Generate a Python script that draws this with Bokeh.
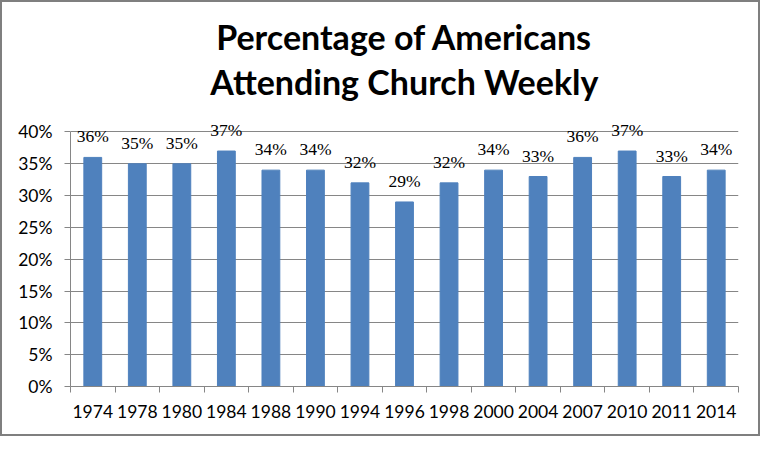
from bokeh.plotting import figure
from bokeh.models import (ColumnDataSource, Title, NumeralTickFormatter, Range1d,
                          FixedTicker, LabelSet, LinearAxis)
from bokeh.embed import file_html
from bokeh.resources import INLINE

years = ["1974", "1978", "1980", "1984", "1988", "1990", "1994", "1996", "1998",
         "2000", "2004", "2007", "2010", "2011", "2014"]
values = [0.36, 0.35, 0.35, 0.37, 0.34, 0.34, 0.32, 0.29, 0.32,
          0.34, 0.33, 0.36, 0.37, 0.33, 0.34]
labels = [f"{round(v*100)}%" for v in values]
y_ticks = [0, 0.05, 0.10, 0.15, 0.20, 0.25, 0.30, 0.35, 0.40]
title_lines = ["Percentage of Americans", "Attending Church Weekly"]

FONT = "Lato"
GRAY = "#868686"
n = len(years)
centers = [i + 0.5 for i in range(n)]
bounds = [float(i) for i in range(n + 1)]
src = ColumnDataSource(dict(x=centers, top=values, label=labels))

p = figure(width=760, height=436, output_backend="svg", x_axis_location=None,
           toolbar_location=None, min_border_left=68, min_border_right=24,
           min_border_top=104, min_border_bottom=52)
p.x_range = Range1d(0, n)
p.y_range = Range1d(0, 0.44)
p.vbar(x="x", top="top", width=0.4, source=src, color="#4F81BD")
p.add_layout(LabelSet(x="x", y="top", text="label", source=src, text_align="center",
                      y_offset=11, text_font=FONT, text_font_size="17.5px",
                      text_color="#000000"))

p.outline_line_color = None
p.border_fill_color = "white"
p.background_fill_color = "white"
p.xgrid.grid_line_color = None
p.ygrid.grid_line_color = GRAY
p.ygrid.ticker = FixedTicker(ticks=y_ticks)

ya = p.yaxis[0]
ya.ticker = FixedTicker(ticks=y_ticks)
ya.formatter = NumeralTickFormatter(format="0%")
ya.bounds = (0, 0.40)
ya.axis_line_color = GRAY
ya.major_tick_line_color = GRAY
ya.minor_tick_line_color = None
ya.major_tick_in = 0
ya.major_tick_out = 6
ya.major_label_standoff = 12
ya.major_label_text_font = FONT
ya.major_label_text_font_size = "17.5px"
ya.major_label_text_color = "#000000"

# axis with category-boundary ticks (no labels)
tick_axis = LinearAxis(ticker=FixedTicker(ticks=bounds), axis_line_color=GRAY,
                       major_tick_line_color=GRAY, major_tick_in=0, major_tick_out=6,
                       minor_tick_line_color=None, major_label_text_font_size="0px",
                       major_label_standoff=0,
                       major_label_overrides={b: "" for b in bounds})
p.add_layout(tick_axis, "below")

# axis with the year labels
label_axis = LinearAxis(ticker=FixedTicker(ticks=centers), axis_line_color=None,
                        major_tick_line_color=None, minor_tick_line_color=None,
                        major_label_standoff=6, major_label_text_font=FONT,
                        major_label_text_font_size="17.5px", major_label_text_color="#000000",
                        major_label_overrides={c: y for c, y in zip(centers, years)})
p.add_layout(label_axis, "below")

# Titles
p.add_layout(Title(text=title_lines[1], align="center", offset=-23, standoff=9,
                   text_font=FONT, text_font_style="bold", text_font_size="34px",
                   text_color="#000000"), "above")
p.add_layout(Title(text=title_lines[0], align="center", offset=-23, standoff=-4,
                   text_font=FONT, text_font_style="bold", text_font_size="34px",
                   text_color="#000000"), "above")

p.styles = {"border": "2px solid #7f7f7f"}
open("out.html", "w").write(file_html(p, INLINE))
